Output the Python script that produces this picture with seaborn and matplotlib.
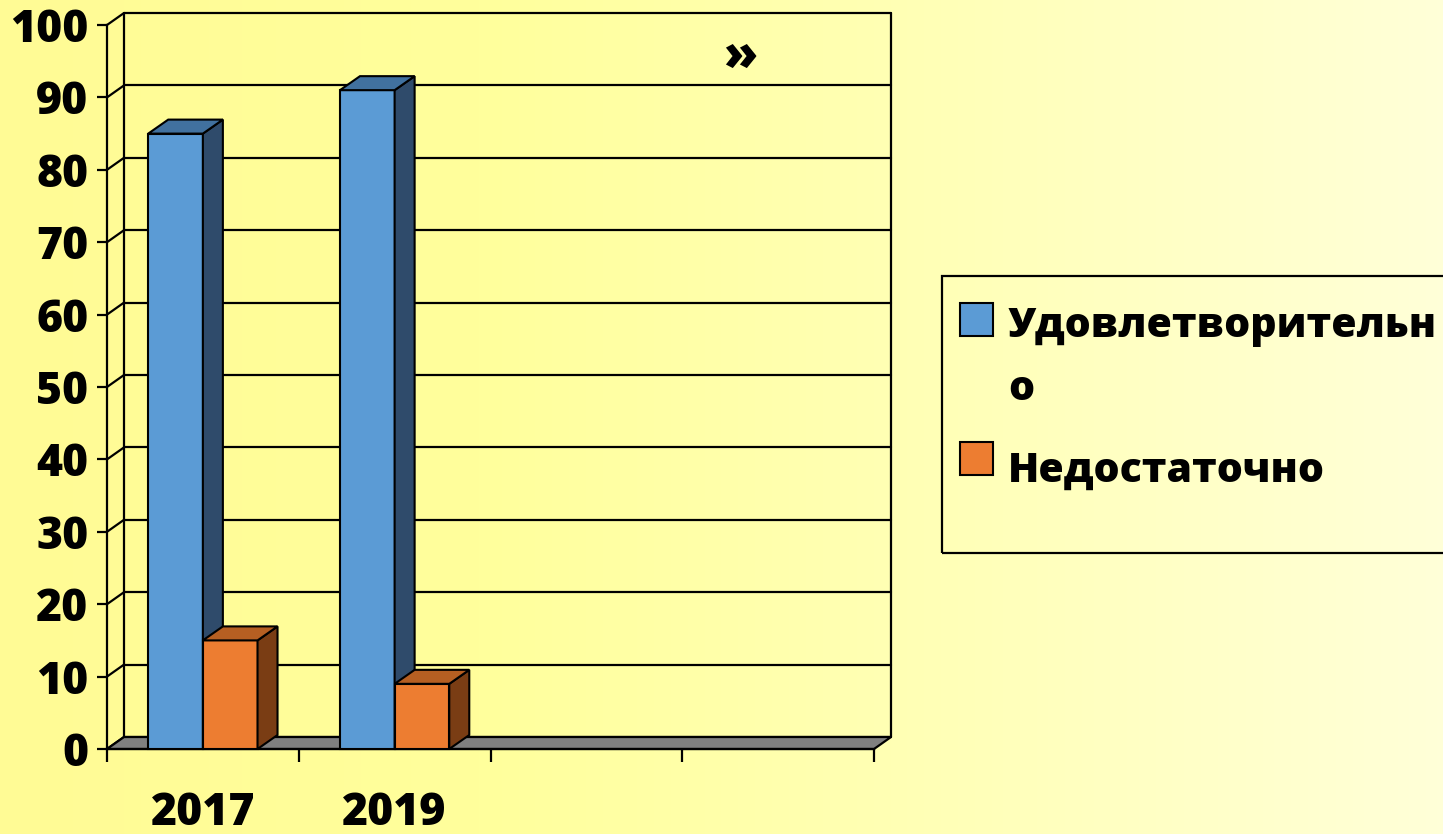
import numpy as np
import pandas as pd
import matplotlib
matplotlib.use("Agg")
import matplotlib.pyplot as plt
from matplotlib.patches import Polygon, Rectangle
from matplotlib.colors import LinearSegmentedColormap
import seaborn as sns

# data
years = ["2017", "2019"]
slots = ["2017", "2019", "slot3", "slot4"]   # two empty category slots on the right
slot_labels = ["2017", "2019", "", ""]
series = ["Удовлетворительно", "Недостаточно"]
legend_labels = ["Удовлетворительн\nо", "Недостаточно"]
satisfactory = [85, 91]
insufficient = [15, 9]
y_ticks = list(range(0, 101, 10))

# colours: front, side, top of the 3D bars
front = ["#5B9BD5", "#ED7D31"]
side = ["#2F4B6B", "#7A3D14"]
top = ["#41719F", "#B65F22"]

df = pd.DataFrame({
    "year": years * 2,
    "grade": [series[0]] * 2 + [series[1]] * 2,
    "value": satisfactory + insufficient,
})

sns.set_style("white")
plt.rcParams["font.family"] = ["Open Sans", "DejaVu Sans"]
plt.rcParams["font.weight"] = "bold"
plt.rcParams["text.color"] = "black"
plt.rcParams["xtick.color"] = "black"
plt.rcParams["ytick.color"] = "black"

W, H = 1443, 834
fig = plt.figure(figsize=(W / 100, H / 100), dpi=100)

# yellow gradient background
bg = fig.add_axes([0, 0, 1, 1], zorder=-10)
cmap = LinearSegmentedColormap.from_list("bg", ["#FFFB95", "#FFFF9C", "#FFFFB8", "#FFFFD8"])
grad = np.linspace(0, 1, 256).reshape(1, -1)
bg.imshow(grad, cmap=cmap, aspect="auto", extent=[0, 1, 0, 1])
bg.axis("off")

# front plane of the plot: x 107..874 px, y 749..25 px
x0, x1, y0, y1 = 107, 874, 749, 25
ax = fig.add_axes([x0 / W, (H - y0) / H, (x1 - x0) / W, (y0 - y1) / H])
ax.set_facecolor("none")

sns.barplot(data=df, x="year", y="value", hue="grade", order=slots, hue_order=series,
            palette=front, width=0.57, saturation=1, edgecolor="black", linewidth=1.5,
            legend=False, ax=ax)
ax.set_xlim(-0.5, 3.5)
ax.set_ylim(0, 100)

# pixel -> data units
ux = 4.0 / (x1 - x0)
uy = 100.0 / (y0 - y1)
wdx, wdy = 17 * ux, 12 * uy      # back wall offset
bdx, bdy = 20 * ux, 14 * uy      # bar depth

lw = 1.6
# back wall gridlines, left wall diagonals
for v in y_ticks:
    ax.plot([-0.5 + wdx, 3.5 + wdx], [v + wdy, v + wdy], color="black", lw=lw, clip_on=False, zorder=1)
    ax.plot([-0.5, -0.5 + wdx], [v, v + wdy], color="black", lw=lw, clip_on=False, zorder=1)
ax.plot([-0.5 + wdx, -0.5 + wdx], [wdy, 100 + wdy], color="black", lw=lw, clip_on=False, zorder=1)
ax.plot([3.5 + wdx, 3.5 + wdx], [wdy, 100 + wdy], color="black", lw=lw, clip_on=False, zorder=1)

# grey floor
floor = Polygon([(-0.5, 0), (3.5, 0), (3.5 + wdx, wdy), (-0.5 + wdx, wdy)], closed=True,
                facecolor="#808080", edgecolor="black", lw=lw, clip_on=False, zorder=2)
ax.add_patch(floor)

# 3D faces for the bars, drawn left to right so the next bar hides the previous side
bars = [p for p in ax.patches if isinstance(p, Rectangle) and p.get_height() > 0]
bars.sort(key=lambda p: p.get_x())
z = 3
for p in bars:
    ci = 0 if p.get_facecolor()[2] > 0.6 else 1
    bx, bw, bh = p.get_x(), p.get_width(), p.get_height()
    p.set_zorder(z)
    p.set_clip_on(False)
    s = Polygon([(bx + bw, 0), (bx + bw + bdx, bdy), (bx + bw + bdx, bh + bdy), (bx + bw, bh)],
                closed=True, facecolor=side[ci], edgecolor="black", lw=1.5, clip_on=False, zorder=z + 0.1)
    t = Polygon([(bx, bh), (bx + bw, bh), (bx + bw + bdx, bh + bdy), (bx + bdx, bh + bdy)],
                closed=True, facecolor=top[ci], edgecolor="black", lw=1.5, clip_on=False, zorder=z + 0.2)
    ax.add_patch(s)
    ax.add_patch(t)
    z += 1

# axes, ticks
sns.despine(ax=ax, top=True, right=True)
for sp in ["left", "bottom"]:
    ax.spines[sp].set_linewidth(lw)
    ax.spines[sp].set_color("black")
    ax.spines[sp].set_zorder(2.5)
ax.set_yticks(y_ticks)
ax.set_yticklabels([str(v) for v in y_ticks], fontsize=32, fontweight="heavy")
ax.tick_params(axis="y", direction="out", length=7.5, width=lw, pad=6, left=True)
ax.set_xticks(range(len(slots)))
ax.set_xticklabels(slot_labels, fontsize=32, fontweight="heavy")
ax.set_xticks(np.arange(-0.5, 4.0, 1.0), minor=True)
ax.tick_params(axis="x", which="major", length=0, pad=30)
ax.tick_params(axis="x", which="minor", direction="out", length=9, width=lw, bottom=True)
ax.set_xlabel("")
ax.set_ylabel("")

fig.text(740 / W, 1 - 57 / H, "»", fontsize=36, fontweight="heavy", ha="center", va="center")

# legend box, running off the right edge
def fx(px):
    return px / W

def fy(py):
    return 1 - py / H

fig.patches.append(Rectangle((fx(942), fy(553)), fx(1470) - fx(942), fy(276) - fy(553),
                             transform=fig.transFigure, facecolor="none", edgecolor="black", lw=1.6))
fig.patches.append(Rectangle((fx(960), fy(336)), fx(993) - fx(960), fy(303) - fy(336),
                             transform=fig.transFigure, facecolor=front[0], edgecolor="black", lw=1.5))
fig.patches.append(Rectangle((fx(960), fy(475)), fx(993) - fx(960), fy(442) - fy(475),
                             transform=fig.transFigure, facecolor=front[1], edgecolor="black", lw=1.5))
line1, line2 = legend_labels[0].split("\n")
fig.text(fx(1008), fy(337), line1, fontsize=29.5, fontweight="heavy", ha="left", va="baseline")
fig.text(fx(1008), fy(400), line2, fontsize=29.5, fontweight="heavy", ha="left", va="baseline")
fig.text(fx(1008), fy(482), legend_labels[1], fontsize=29.5, fontweight="heavy", ha="left", va="baseline")

fig.savefig("out.png", dpi=100)
